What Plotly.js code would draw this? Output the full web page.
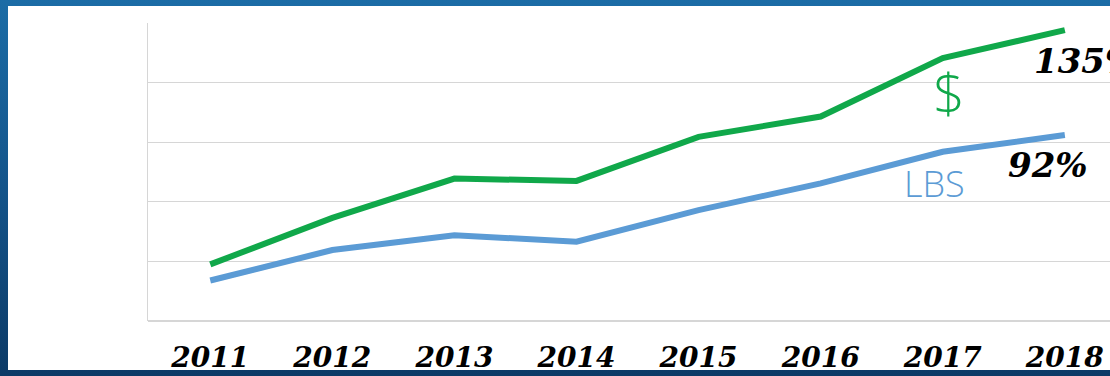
<!DOCTYPE html>
<html>
<head>
<meta charset="utf-8">
<script src="https://cdn.plot.ly/plotly-3.0.1.min.js"></script>
<style>
  html, body { margin: 0; padding: 0; width: 1110px; height: 376px; overflow: hidden;
    background: linear-gradient(180deg, #1b6ca6 0%, #14548a 50%, #0c3a66 100%); }
  #panel { position: absolute; left: 8px; top: 6px; width: 1102px; height: 364px; background: #ffffff; }
  #chart { position: absolute; left: 0; top: 0; width: 1110px; height: 376px; }
</style>
</head>
<body>
<div id="panel"></div>
<div id="chart"></div>
<script>
const years = [2011, 2012, 2013, 2014, 2015, 2016, 2017, 2018];
const tickLabels = ["2011", "2012", "2013", "2014", "2015", "2016", "2017", "2018"];
const dollars = [0.95, 1.73, 2.39, 2.35, 3.09, 3.43, 4.41, 4.88];
const pounds  = [0.68, 1.19, 1.44, 1.33, 1.86, 2.31, 2.84, 3.12];

const labelFont = { family: "DejaVu Serif", size: 34, color: "#000000", weight: "bold", style: "italic" };

const traces = [
  { x: years, y: dollars, type: "scatter", mode: "lines", name: "$",
    line: { color: "#10a84a", width: 6 }, hoverinfo: "skip" },
  { x: years, y: pounds, type: "scatter", mode: "lines", name: "LBS",
    line: { color: "#5b9bd5", width: 6 }, hoverinfo: "skip" }
];

const layout = {
  width: 1110, height: 376,
  margin: { l: 148, r: 0, t: 23, b: 55, pad: 0 },
  paper_bgcolor: "rgba(0,0,0,0)",
  plot_bgcolor: "rgba(0,0,0,0)",
  showlegend: false,
  xaxis: {
    range: [2010.49, 2018.37],
    tickmode: "array", tickvals: years, ticktext: tickLabels,
    tickfont: { family: "DejaVu Serif", size: 28, color: "#000000", weight: "bold", style: "italic" },
    showgrid: false, zeroline: false, showline: false, ticks: "",
    ticklabelstandoff: 17
  },
  yaxis: {
    range: [0, 5], dtick: 1, tick0: 0,
    showticklabels: false, ticks: "",
    showgrid: true, gridcolor: "#d6d6d6", gridwidth: 1.2,
    zeroline: true, zerolinecolor: "#d6d6d6", zerolinewidth: 1.2,
    showline: true, linecolor: "#d6d6d6", linewidth: 1.2, mirror: false
  },
  annotations: [
    { x: 2017.73, y: 4.37, xref: "x", yref: "y", text: "135%", showarrow: false,
      xanchor: "left", yanchor: "middle", font: labelFont },
    { x: 2017.86, y: 2.62, xref: "x", yref: "y", text: "92%", showarrow: false,
      xanchor: "center", yanchor: "middle", font: labelFont },
    { x: 2017.05, y: 3.86, xref: "x", yref: "y", text: "$", showarrow: false,
      xanchor: "center", yanchor: "middle",
      font: { family: "Open Sans", size: 56, color: "#10a84a", weight: 300 } },
    { x: 2016.93, y: 2.31, xref: "x", yref: "y", text: "LBS", showarrow: false,
      xanchor: "center", yanchor: "middle",
      font: { family: "Open Sans", size: 36, color: "#5b9bd5", weight: 300 } }
  ]
};

Plotly.newPlot("chart", traces, layout, { staticPlot: true, displayModeBar: false });
</script>
</body>
</html>
